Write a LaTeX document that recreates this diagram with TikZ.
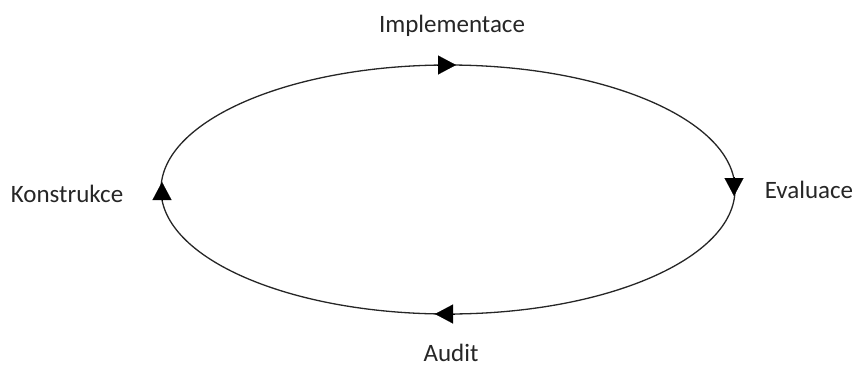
\documentclass[tikz,border=0pt]{standalone}
\usepackage{fontspec}
\setmainfont{Carlito}
\usetikzlibrary{arrows.meta}
\begin{document}
\begin{tikzpicture}[x=1pt,y=-1pt,
  lbl/.style={font=\fontsize{25}{30}\selectfont, text=black!85, inner sep=0pt},
  ring/.style={line width=1.3pt, black!85},
  tip/.style={line width=0.1pt, -{Triangle[length=18pt,width=19pt]}}]
\useasboundingbox (0,0) rectangle (856,367);
\node[lbl] (impl) at (452,26) {Implementace};
\node[lbl] (eval) at (809,190) {Evaluace};
\node[lbl] (audit) at (451,353) {Audit};
\node[lbl] (kons) at (67,194) {Konstrukce};
\draw[ring] (448,189.5) ellipse [x radius=287, y radius=124.5];
\coordinate (t1) at (437,65);  \coordinate (t2) at (456,65);
\coordinate (r1) at (734,177); \coordinate (r2) at (734,196);
\coordinate (b1) at (455,314); \coordinate (b2) at (435,314);
\coordinate (l1) at (162,201); \coordinate (l2) at (162,182);
\draw[tip] (t1) -- (t2);
\draw[tip] (r1) -- (r2);
\draw[tip] (b1) -- (b2);
\draw[tip] (l1) -- (l2);
\end{tikzpicture}
\end{document}
